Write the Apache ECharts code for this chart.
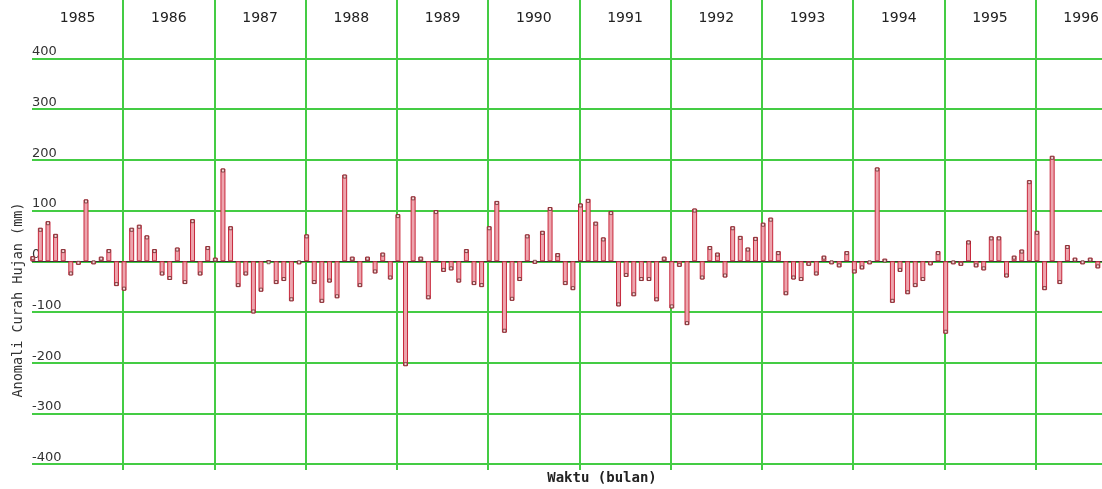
<!DOCTYPE html>
<html>
<head>
<meta charset="utf-8">
<title>Anomali Curah Hujan</title>
<script src="https://cdn.jsdelivr.net/npm/echarts@6.0.0/dist/echarts.min.js"></script>
<style>
  html, body { margin: 0; padding: 0; background: #fff; }
  #chart { width: 1102px; height: 489px; }
</style>
</head>
<body>
<div id="chart"></div>
<script>
// tahun di atas grafik
const years = [1985, 1986, 1987, 1988, 1989, 1990, 1991, 1992, 1993, 1994, 1995, 1996]

// anomali curah hujan bulanan (mm), Jan - Des
const a1985 = [10, 66, 79, 54, 24, -28, -7, 122, -6, 9, 24, -49]
const a1986 = [-58, 66, 72, 51, 24, -28, -37, 27, -45, 83, -28, 30]
const a1987 = [7, 183, 69, -51, -28, -103, -60, 2, -45, -39, -79, -6]
const a1988 = [53, -45, -82, -42, -73, 171, 9, -51, 9, -24, 17, -36]
const a1989 = [93, -207, 128, 9, -75, 101, -21, -18, -42, 24, -47, -51]
const a1990 = [69, 119, -141, -78, -39, 53, -5, 60, 107, 16, -47, -57]
const a1991 = [114, 123, 78, 47, 99, -89, -31, -69, -39, -39, -79, 9]
const a1992 = [-93, -11, -126, 104, -36, 30, 17, -32, 69, 50, 27, 48]
const a1993 = [76, 86, 20, -67, -36, -39, -9, -28, 11, -6, -12, 20]
const a1994 = [-24, -16, -6, 185, 5, -82, -21, -65, -51, -39, -8, 20]
const a1995 = [-143, -6, -9, 41, -12, -18, 49, 49, -32, 11, 23, 160]
const a1996 = [60, -57, 208, -45, 32, 7, -6, 7, -14, 70]

const yTicks = [-400, -300, -200, -100, 0, 100, 200, 300, 400]

const monthly = [].concat(a1985, a1986, a1987, a1988, a1989, a1990,
  a1991, a1992, a1993, a1994, a1995, a1996)

// posisi bulan ke-i di sumbu x (bulan sejak Jan 1985)
const barData = monthly.map((v, i) => [i + 0.1, v])
const tipData = monthly.map((v, i) => ({
  value: [i + 0.1, v],
  symbolOffset: [0, v >= 0 ? 2 : -2]
}))

const xMax = 140.65

const colors = {
  grid: '#44cc44',
  barFill: '#eda5ae',
  barLine: '#c8283c',
  tip: '#6b2b2b',
  text: '#222'
}

const chart = echarts.init(document.getElementById('chart'))

chart.setOption({
  animation: false,
  grid: [
    // garis tahun (vertikal) memanjang dari atas sampai bawah
    { left: 32, right: 0, top: 0, bottom: 19 },
    // area batang
    { left: 32, right: 0, top: 58.5, bottom: 25 }
  ],
  xAxis: [
    {
      gridIndex: 0,
      type: 'value',
      position: 'top',
      min: 0,
      max: xMax,
      interval: 12,
      axisLine: { show: false },
      axisTick: { show: false },
      axisLabel: {
        inside: true,
        margin: 11,
        customValues: years.map((y, i) => i * 12 + 6),
        formatter: v => years[Math.round((v - 6) / 12)],
        fontFamily: 'DejaVu Sans',
        fontSize: 14,
        color: colors.text,
        verticalAlign: 'top'
      },
      splitLine: {
        show: true,
        showMinLine: false,
        showMaxLine: false,
        lineStyle: { color: colors.grid, width: 2 }
      }
    },
    {
      gridIndex: 1,
      type: 'value',
      min: 0,
      max: xMax,
      axisLine: { show: true, onZero: true, lineStyle: { color: '#333', width: 1 } },
      axisTick: { show: false },
      axisLabel: { show: false },
      splitLine: { show: false }
    }
  ],
  yAxis: [
    { gridIndex: 0, type: 'value', min: 0, max: 1, show: false },
    {
      gridIndex: 1,
      type: 'value',
      min: yTicks[0],
      max: yTicks[yTicks.length - 1],
      interval: 100,
      axisLine: { show: false },
      axisTick: { show: false },
      axisLabel: {
        inside: true,
        margin: 0,
        verticalAlign: 'bottom',
        fontFamily: 'DejaVu Sans',
        fontSize: 13,
        color: '#333'
      },
      splitLine: { show: true, lineStyle: { color: colors.grid, width: 2 } }
    }
  ],
  series: [
    {
      type: 'bar',
      xAxisIndex: 1,
      yAxisIndex: 1,
      data: barData,
      barWidth: 5,
      itemStyle: { color: colors.barFill, borderColor: colors.barLine, borderWidth: 1 }
    },
    {
      type: 'scatter',
      xAxisIndex: 1,
      yAxisIndex: 1,
      data: tipData,
      symbol: 'rect',
      symbolSize: 3,
      itemStyle: { color: '#fbe6e8', borderColor: colors.tip, borderWidth: 1 }
    }
  ],
  graphic: [
    {
      type: 'text',
      x: 18,
      y: 300,
      rotation: Math.PI / 2,
      style: {
        text: 'Anomali Curah Hujan (mm)',
        font: '13.5px "DejaVu Sans Mono"',
        fill: '#333',
        align: 'center',
        verticalAlign: 'middle'
      }
    },
    {
      type: 'text',
      x: 602,
      y: 478,
      style: {
        text: 'Waktu (bulan)',
        font: 'bold 14px "DejaVu Sans Mono"',
        fill: '#222',
        align: 'center',
        verticalAlign: 'middle'
      }
    }
  ]
})
</script>
</body>
</html>
